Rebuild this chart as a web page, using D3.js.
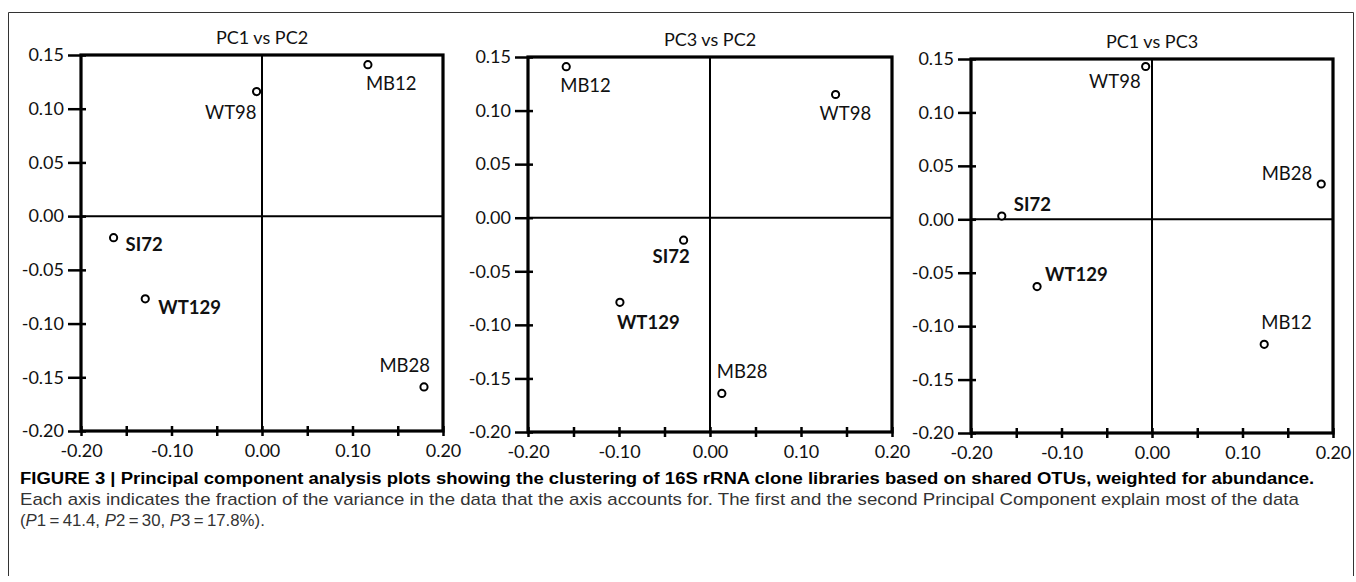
<!DOCTYPE html>
<html>
<head>
<meta charset="utf-8">
<script src="https://cdn.jsdelivr.net/npm/d3@7"></script>
<style>
  body { margin: 0; background: #fff; }
  svg { display: block; }
  .tick text { font-family: Lato, "Open Sans", sans-serif; font-size: 18px; fill: #111; }
  .caption { font-family: "Liberation Sans Narrow", "Arial Narrow", "Liberation Sans", sans-serif; fill: #333; }
</style>
</head>
<body>
<svg id="fig"></svg>
<script>
const samples = ["MB12", "WT98", "SI72", "WT129", "MB28"];
const boldSamples = ["SI72", "WT129"];

// values
const pc1vs2X = [0.117, -0.006, -0.164, -0.129, 0.179];
const pc1vs2Y = [0.141, 0.116, -0.020, -0.077, -0.159];

const pc3vs2X = [-0.158, 0.138, -0.029, -0.099, 0.013];
const pc3vs2Y = [0.141, 0.115, -0.021, -0.079, -0.164];

const pc1vs3X = [0.124, -0.007, -0.166, -0.127, 0.187];
const pc1vs3Y = [-0.117, 0.143, 0.003, -0.063, 0.033];

const titles = ["PC1 vs PC2", "PC3 vs PC2", "PC1 vs PC3"];
const xTicks = [-0.20, -0.15, -0.10, -0.05, 0.00, 0.05, 0.10, 0.15, 0.20];
const yTicks = [-0.20, -0.15, -0.10, -0.05, 0.00, 0.05, 0.10, 0.15];

const captionBold = "FIGURE 3 | Principal component analysis plots showing the clustering of 16S rRNA clone libraries based on shared OTUs, weighted for abundance.";
const captionLine2 = "Each axis indicates the fraction of the variance in the data that the axis accounts for. The first and the second Principal Component explain most of the data";

const width = 1356, height = 582;
const svg = d3.select("#fig").attr("width", width).attr("height", height);

// outer frame (open at bottom)
svg.append("path")
    .attr("d", "M8.5,576 V12.5 H1353.5 V576")
    .attr("fill", "none").attr("stroke", "#333").attr("stroke-width", 1);

// panel boxes and label placement (dx, dy, anchor) per sample
const panels = [
  { x0: 81, x1: 443, y0: 55, y1: 431, title: titles[0], xs: pc1vs2X, ys: pc1vs2Y,
    labels: [[-2, 25, "start"], [0, 27, "end"], [12, 13, "start"], [13, 15, "start"], [6, -15, "end"]] },
  { x0: 528, x1: 892, y0: 57, y1: 432, title: titles[1], xs: pc3vs2X, ys: pc3vs2Y,
    labels: [[-6, 25, "start"], [-16, 25, "start"], [6, 23, "end"], [-3, 27, "start"], [-5, -15, "start"]] },
  { x0: 971, x1: 1333, y0: 59, y1: 433, title: titles[2], xs: pc1vs3X, ys: pc1vs3Y,
    labels: [[-3, -15, "start"], [-5, 22, "end"], [12, -5, "start"], [8, -6, "start"], [-9, -4, "end"]] }
];

panels.forEach(p => {
  const g = svg.append("g");
  const x = d3.scaleLinear().domain([-0.2, 0.2]).range([p.x0, p.x1]);
  const y = d3.scaleLinear().domain([-0.2, 0.15]).range([p.y1, p.y0]);

  // y axis
  const ya = g.append("g")
      .attr("transform", `translate(${p.x0},0)`)
      .call(d3.axisLeft(y).tickValues(yTicks).tickSize(13).tickPadding(4)
        .tickFormat(d => d.toFixed(2)));
  ya.select(".domain").remove();
  ya.selectAll(".tick line").attr("x1", 5).attr("stroke", "#000").attr("stroke-width", 2.5);

  // x axis
  const xa = g.append("g")
      .attr("transform", `translate(0,${p.y1})`)
      .call(d3.axisBottom(x).tickValues(xTicks).tickSize(5).tickPadding(8)
        .tickFormat(d => Math.abs(Math.round(d * 100)) % 10 === 0 ? d.toFixed(2) : ""));
  xa.select(".domain").remove();
  xa.selectAll(".tick line").attr("y1", -5).attr("stroke", "#000").attr("stroke-width", 2.5);

  // frame
  g.append("rect")
      .attr("x", p.x0).attr("y", p.y0)
      .attr("width", p.x1 - p.x0).attr("height", p.y1 - p.y0)
      .attr("fill", "none").attr("stroke", "#000").attr("stroke-width", 3.2);

  // zero lines
  g.append("line")
      .attr("x1", x(0)).attr("x2", x(0)).attr("y1", p.y0).attr("y2", p.y1)
      .attr("stroke", "#000").attr("stroke-width", 2);
  g.append("line")
      .attr("x1", p.x0).attr("x2", p.x1).attr("y1", y(0)).attr("y2", y(0))
      .attr("stroke", "#000").attr("stroke-width", 2);

  // title
  g.append("text")
      .attr("x", (p.x0 + p.x1) / 2).attr("y", p.y0 - 11)
      .attr("text-anchor", "middle")
      .attr("font-family", "Lato, 'Open Sans', sans-serif").attr("font-size", 18)
      .attr("fill", "#111")
      .text(p.title);

  const pts = samples.map((s, i) => ({ name: s, x: p.xs[i], y: p.ys[i], lab: p.labels[i] }));

  g.selectAll("circle").data(pts).join("circle")
      .attr("cx", d => x(d.x)).attr("cy", d => y(d.y)).attr("r", 3.6)
      .attr("fill", "#fff").attr("stroke", "#000").attr("stroke-width", 2);

  g.selectAll("text.lbl").data(pts).join("text")
      .attr("class", "lbl")
      .attr("x", d => x(d.x) + d.lab[0])
      .attr("y", d => y(d.y) + d.lab[1])
      .attr("text-anchor", d => d.lab[2])
      .attr("font-family", "Lato, 'Open Sans', sans-serif")
      .attr("font-size", 18.5)
      .attr("font-weight", d => boldSamples.includes(d.name) ? "bold" : "normal")
      .attr("fill", "#111")
      .text(d => d.name);
});

// caption: each line squeezed horizontally to the width it takes in the figure
const cap = svg.append("g").attr("class", "caption");

function captionLine(y, w, build) {
  const lg = cap.append("g");
  const t = lg.append("text").attr("x", 0).attr("y", y).attr("font-size", 17);
  build(t);
  const s = w / t.node().getComputedTextLength();
  lg.attr("transform", `translate(20,0) scale(${s},1)`);
}

captionLine(484, 1295, t => t.attr("font-weight", "bold").attr("fill", "#000").text(captionBold));
captionLine(505, 1280, t => t.text(captionLine2));
captionLine(526, 245, t => {
  t.append("tspan").text("(");
  t.append("tspan").attr("font-style", "italic").text("P");
  t.append("tspan").text("1\u2009=\u200941.4, ");
  t.append("tspan").attr("font-style", "italic").text("P");
  t.append("tspan").text("2\u2009=\u200930, ");
  t.append("tspan").attr("font-style", "italic").text("P");
  t.append("tspan").text("3\u2009=\u200917.8%).");
});
</script>
</body>
</html>
